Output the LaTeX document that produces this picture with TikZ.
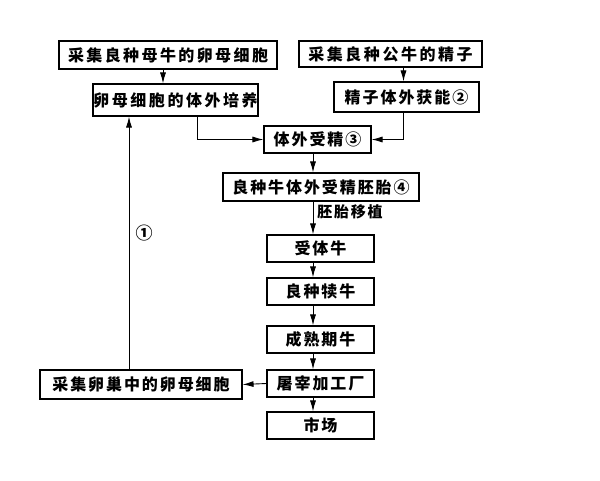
\documentclass[tikz,border=0pt]{standalone}
\usepackage{fontspec}
\newfontfamily\cjk{Noto Sans CJK SC}[LetterSpace=12]
\usetikzlibrary{arrows.meta}

\begin{document}
\begin{tikzpicture}[x=1pt,y=-1pt,
    box/.style={draw,line width=1.1pt,inner sep=0pt,minimum height=27,minimum width=107,
        font=\cjk\bfseries\fontsize{16}{18}\selectfont},
    arr/.style={-{Latex[length=11pt,width=6pt]},line width=0.9pt},
    lbl/.style={font=\cjk\bfseries\fontsize{15}{17}\selectfont,inner sep=1pt}]

	\useasboundingbox (0,0) rectangle (600,480);
	\coordinate (axis) at (313,0);
	\coordinate (up) at (129,0);

	\begin{scope}[every node/.style={box}]
		\node[minimum width=218,minimum height=28] (b1) at (168,55) {\addfontfeature{LetterSpace=15}采集良种母牛的卵母细胞};
		\node[minimum width=183,minimum height=26] (b2) at (390.5,54) {\addfontfeature{LetterSpace=16}采集良种公牛的精子};
		\node[minimum width=165,minimum height=32] (b3) at (175.5,100) {\addfontfeature{LetterSpace=16}卵母细胞的体外培养};
		\node[minimum width=145,minimum height=30] (b4) at (406.5,97) {精子体外获能②};
		\node (b5) at (317.5,139.5) {体外受精③};
		\node[minimum width=196,minimum height=28] (b6) at (321,187) {良种牛体外受精胚胎④};
		\node[minimum width=202,minimum height=29] (b12) at (141,384.5) {采集卵巢中的卵母细胞};

		\foreach \n/\y/\t in {7/248.5/受体牛,8/291.5/良种犊牛,9/339.5/成熟期牛,10/383.5/屠宰加工厂,11/425.5/市场}
			\node (b\n) at (320.5,\y) {\t};
	\end{scope}

	\node[lbl] (tag) at (350,212) {胚胎移植};
	\node[lbl,font=\cjk\bfseries\fontsize{17}{19}\selectfont] (one) at (144,233) {①};

	\draw[arr] ([xshift=-5]b1.south) -- ([xshift=-5]b1.south |- b3.north);
	\draw[arr] ([xshift=-3]b4.north |- b2.south) -- ([xshift=-3]b4.north);
	\draw[arr] ([xshift=22]b3.south) |- (b5.west);
	\draw[arr] ([xshift=-3]b4.south) |- (b5.east);
	\foreach \a/\b in {5/6,6/7,7/8,8/9,9/10,10/11}
		\draw[arr] (b\a.south -| axis) -- (b\b.north -| axis);
	\draw[arr] (b10.west) -- (b12.east);
	\draw[arr] (b12.north -| up) -- (b3.south -| up);

\end{tikzpicture}
\end{document}
